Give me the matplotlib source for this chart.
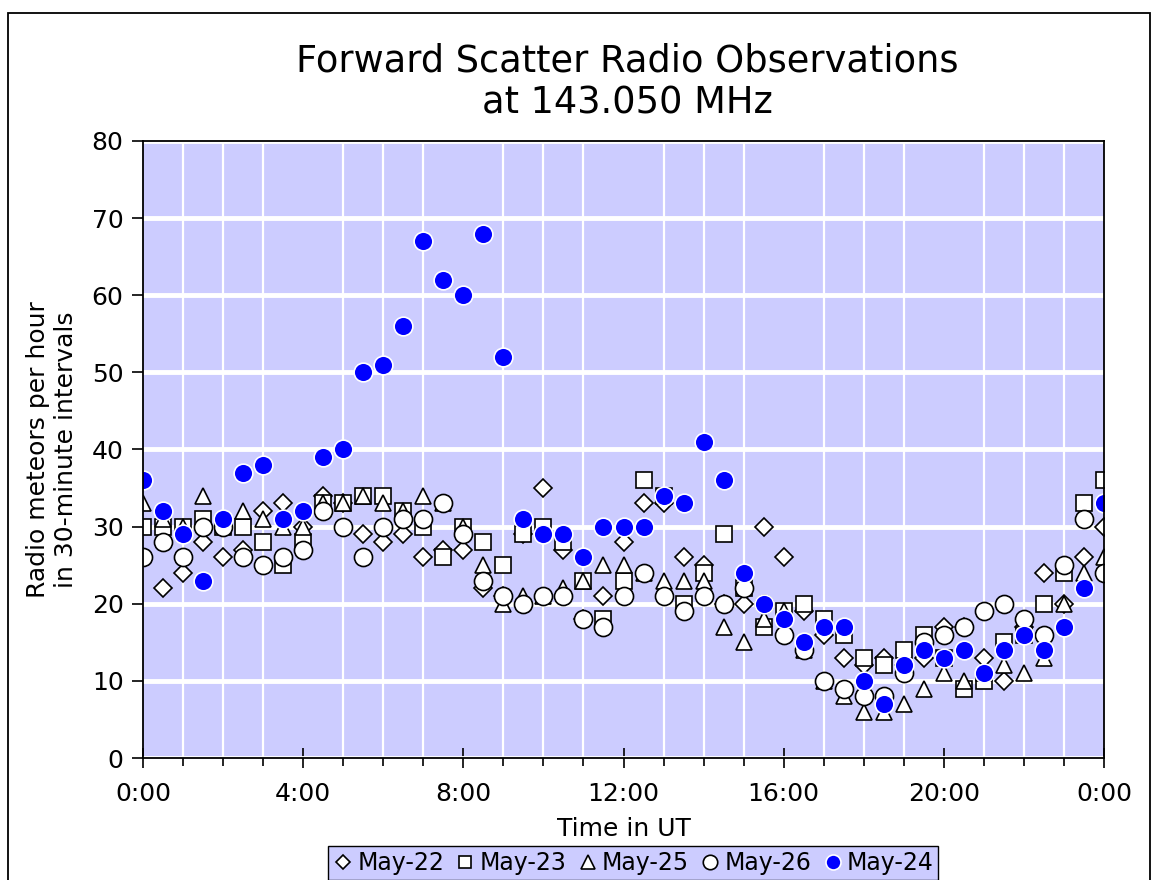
import matplotlib
matplotlib.use("Agg")
import matplotlib.pyplot as plt
from matplotlib.patches import Rectangle
import numpy as np

# half-hour slots 0:00 .. 24:00
hours = np.arange(49) * 0.5

may22 = [26, 22, 24, 28, 26, 27, 32, 33, 30, 34, 33, 29, 28, 29, 26, 27, 27, 22, 21, 29,
         35, 27, 18, 21, 28, 33, 33, 26, 25, 20, 20, 30, 26, 19, 16, 13, 12, 13, 12, 13,
         17, 17, 13, 10, 17, 24, 20, 26, 30]
may23 = [30, 30, 30, 31, 30, 30, 28, 25, 28, 33, 33, 34, 34, 32, 30, 26, 30, 28, 25, 29,
         30, 28, 23, 18, 23, 36, 34, 20, 24, 29, 22, 17, 19, 20, 18, 16, 13, 12, 14, 16,
         13, 9, 10, 15, 16, 20, 24, 33, 36]
may25 = [33, 31, 30, 34, 31, 32, 31, 30, 30, 33, 33, 34, 33, 32, 34, 33, 30, 25, 20, 21,
         21, 22, 23, 25, 25, 24, 23, 23, 23, 17, 15, 18, 19, 14, 10, 8, 6, 6, 7, 9,
         11, 10, 11, 12, 11, 13, 20, 24, 26]
may26 = [26, 28, 26, 30, 30, 26, 25, 26, 27, 32, 30, 26, 30, 31, 31, 33, 29, 23, 21, 20,
         21, 21, 18, 17, 21, 24, 21, 19, 21, 20, 22, 20, 16, 14, 10, 9, 8, 8, 11, 15,
         16, 17, 19, 20, 18, 16, 25, 31, 24]
may24 = [36, 32, 29, 23, 31, 37, 38, 31, 32, 39, 40, 50, 51, 56, 67, 62, 60, 68, 52, 31,
         29, 29, 26, 30, 30, 30, 34, 33, 41, 36, 24, 20, 18, 15, 17, 17, 10, 7, 12, 14,
         13, 14, 11, 14, 16, 14, 17, 22, 33]

xtick_pos = [0, 4, 8, 12, 16, 20, 24]
xtick_labels = ["0:00", "4:00", "8:00", "12:00", "16:00", "20:00", "0:00"]

plt.rcParams['font.family'] = ['DejaVu Sans']

fig = plt.figure(figsize=(11.56, 8.8), dpi=100)
ax = fig.add_axes([143/1156, 1 - 758/880, (1104 - 143)/1156, (758 - 141)/880])
ax.set_facecolor('#CCCCFF')

# outer frame
fig.patches.append(Rectangle((8/1156, -0.05), (1150 - 8)/1156, 1 - 13/880 + 0.05,
                             transform=fig.transFigure, fill=False,
                             edgecolor='black', linewidth=1.3))

ax.plot(hours, may22, 'D', ms=9.5, mfc='white', mec='black', mew=1.2, label='May-22')
ax.plot(hours, may23, 's', ms=11, mfc='white', mec='black', mew=1.2, label='May-23')
ax.plot(hours, may25, '^', ms=12, mfc='white', mec='black', mew=1.2, label='May-25')
ax.plot(hours, may26, 'o', ms=13, mfc='white', mec='black', mew=1.2, label='May-26')
ax.plot(hours, may24, 'o', ms=13.5, mfc='#0000FF', mec='white', mew=1.2, label='May-24')

ax.set_xlim(0, 24)
ax.set_ylim(0, 80)
ax.set_yticks(range(0, 81, 10))
ax.set_xticks(xtick_pos)
ax.set_xticklabels(xtick_labels, fontsize=18)
ax.set_yticklabels([str(v) for v in range(0, 81, 10)], fontsize=18)
ax.set_xticks(range(25), minor=True)
ax.tick_params(axis='x', which='major', direction='inout', length=14, width=1.2, pad=10)
ax.tick_params(axis='x', which='minor', direction='out', length=6, width=1.2)
ax.tick_params(axis='y', direction='out', length=8, width=1.2, pad=6)

ax.grid(axis='y', which='major', color='white', lw=3.5)
ax.grid(axis='x', which='minor', color='white', lw=1.6)
ax.set_axisbelow(True)
for s in ax.spines.values():
    s.set_color('black')
    s.set_linewidth(1.3)

ax.set_xlabel('Time in UT', fontsize=18, labelpad=8)
ax.set_ylabel('Radio meteors per hour\nin 30-minute intervals', fontsize=18, labelpad=10)
fig.text(0.5424, 1 - 82/880, 'Forward Scatter Radio Observations\nat 143.050 MHz',
         ha='center', va='center', fontsize=26.5, linespacing=1.15)

leg = fig.legend(loc='center', bbox_to_anchor=(633/1156, 1 - 863/880), ncol=5,
                 fontsize=17, frameon=True, fancybox=False, handletextpad=0.15,
                 columnspacing=0.45, borderpad=0.2, markerscale=0.8, handlelength=0.9)
leg.get_frame().set_facecolor('#CCCCFF')
leg.get_frame().set_edgecolor('black')
leg.get_frame().set_alpha(1)

fig.savefig('out.png', dpi=100)
